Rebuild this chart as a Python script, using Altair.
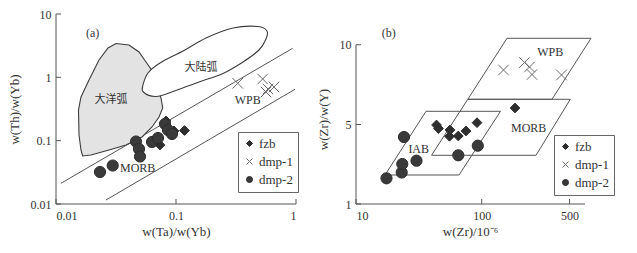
import altair as alt
import pandas as pd

SERIES = ["fzb", "dmp-1", "dmp-2"]

# ---------------- panel (a): Th/Yb vs Ta/Yb ----------------
a_fzb_x = [0.07356, 0.08254, 0.09623, 0.1177]
a_fzb_y = [0.0854, 0.2045, 0.1422, 0.1447]
a_dmp1_x = [0.3267, 0.5277, 0.5843, 0.6557, 0.5623]
a_dmp1_y = [0.805, 0.9414, 0.6546, 0.7038, 0.5867]
a_dmp2_x = [0.02326, 0.02969, 0.04642, 0.04918, 0.05012, 0.0631, 0.07079, 0.081, 0.08577, 0.09261]
a_dmp2_y = [0.032, 0.0405, 0.0970, 0.0739, 0.0562, 0.0953, 0.1102, 0.1833, 0.1474, 0.1274]

oceanic_x = [0.01669, 0.01615, 0.01555, 0.0154, 0.01615, 0.01884, 0.02282, 0.02713, 0.03162, 0.04058, 0.04918,
             0.05623, 0.06432, 0.06813, 0.07499, 0.07748, 0.07216, 0.0631, 0.05208, 0.03831, 0.02766, 0.01957]
oceanic_y = [0.0573, 0.0713, 0.1229, 0.305, 0.4894, 0.908, 1.878, 2.906, 3.422, 3.241, 2.513,
             1.747, 1.214, 0.757, 0.472, 0.328, 0.2365, 0.1644, 0.1143, 0.0854, 0.0713, 0.0594]
continental_x = [0.05339, 0.06813, 0.1, 0.1554, 0.2464, 0.3617, 0.4917, 0.5623, 0.5732, 0.4824, 0.2985,
                 0.1778, 0.1144, 0.07356, 0.05843, 0.05309]
continental_y = [0.5867, 0.4983, 0.6198, 0.8442, 1.15, 1.747, 2.702, 4.031, 5.391, 6.352, 6.014,
                 4.181, 2.605, 1.684, 1.171, 0.757]
array_upper_x = [0.011, 0.9386]
array_upper_y = [0.02122, 2.874]
array_lower_x = [0.0261, 0.981]
array_lower_y = [0.01157, 0.6474]

a_text = ["(a)", "WPB", "MORB"]
a_text_x = [0.02022, 0.3959, 0.04795]
a_text_y = [4.96, 0.4387, 0.0366]
a_cjk = ["大陆弧", "大洋弧"]
a_cjk_x = [0.1616, 0.02873]
a_cjk_y = [1.389, 0.4387]

a_xticks = [0.01, 0.1, 1]
a_yticks = [0.01, 0.1, 1, 10]

# ---------------- panel (b): Zr/Y vs Zr ----------------
b_fzb_x = [43.70, 45.33, 55.95, 55.44, 65.13, 75.02, 91.76, 184.1]
b_fzb_y = [4.971, 4.771, 4.685, 4.330, 4.347, 4.629, 5.104, 5.970]
b_dmp1_x = [149.1, 219.0, 240.1, 251.3, 431.3]
b_dmp1_y = [8.338, 8.826, 8.532, 8.048, 8.016]
b_dmp2_x = [17.48, 23.10, 23.35, 24.09, 30.29, 65.13, 93.11]
b_dmp2_y = [2.141, 2.423, 2.848, 4.291, 3.017, 3.299, 3.812]

iab_x = [17.01, 65.98, 141.1, 36.06]
iab_y = [2.300, 2.300, 5.773, 5.773]
morb_x = [39.87, 270.4, 506.9, 77.5]
morb_y = [3.299, 3.299, 6.496, 6.496]
wpb_x = [77.5, 362.5, 740.5, 159.0]
wpb_y = [6.496, 6.496, 10.435, 10.435]

b_text = ["(b)", "WPB", "MORB", "IAB"]
b_text_x = [18.2, 351.3, 236.5, 31.54]
b_text_y = [10.78, 9.536, 4.782, 3.618]

b_xticks = [10, 100, 500]
b_yticks = [1, 5, 10]

# ---------------- styling ----------------
SERIF = "Liberation Serif, Times New Roman, serif"
CJK = "Noto Sans CJK SC"
AX = "#555555"
TXT = "#333333"
H = 190

shape_scale = alt.Scale(domain=SERIES, range=["diamond", "M-1,-1L1,1M-1,1L1,-1", "circle"])
fill_scale = alt.Scale(domain=SERIES, range=["#2e2e2e", "transparent", "#3a3a3a"])
stroke_scale = alt.Scale(domain=SERIES, range=["#2e2e2e", "#6a6a6a", "#2e2e2e"])
size_scale = alt.Scale(domain=SERIES, range=[95, 125, 115])


def make_legend(lx, ly):
    return alt.Legend(title=None, orient="none", legendX=lx, legendY=ly,
                      strokeColor="#666666", fillColor="white", padding=5,
                      symbolSize=36, symbolStrokeWidth=1, rowPadding=4,
                      labelFont=SERIF, labelFontSize=13, labelColor=TXT, labelOffset=3)


def points_df(xs_list, ys_list):
    xs, ys, ts = [], [], []
    for name, xv, yv in zip(SERIES, xs_list, ys_list):
        xs += xv
        ys += yv
        ts += [name] * len(xv)
    return pd.DataFrame({"x": xs, "y": ys, "type": ts})


def poly_df(named):
    rows = []
    for name, xv, yv in named:
        for i, (xx, yy) in enumerate(zip(xv, yv)):
            rows.append({"x": xx, "y": yy, "name": name, "i": i})
    return pd.DataFrame(rows)


def panel(W, xsc, ysc, xtitle, ytitle, xticks, yticks, xfmt, yfmt, xline, yline,
          pts, legend, extra_layers, ytitle_y=None, xtitle_x=None):
    ax_kw = dict(grid=False, domain=False, ticks=False, labelFont=SERIF, labelFontSize=12,
                 labelColor=TXT, titleFont=SERIF, titleFontSize=13, titleColor=TXT,
                 titleFontWeight="normal")
    xextra = {"titleX": xtitle_x} if xtitle_x is not None else {}
    axx = alt.Axis(values=xticks, format=xfmt, title=xtitle, titlePadding=4, labelPadding=6,
                   **xextra, **ax_kw)
    yextra = {"titleY": ytitle_y} if ytitle_y is not None else {}
    axy = alt.Axis(values=yticks, format=yfmt, title=ytitle, titlePadding=9, labelPadding=5,
                   labelFlush=False, **yextra, **ax_kw)

    def X(f):
        return alt.X(f, type="quantitative", scale=xsc, axis=axx)

    def Y(f):
        return alt.Y(f, type="quantitative", scale=ysc, axis=axy)

    xl = alt.Chart(pd.DataFrame({"a": [xline[0]], "b": [xline[1]]})).mark_rule(
        color=AX, strokeWidth=1).encode(x=X("a"), x2="b:Q", y=alt.value(H))
    yl = alt.Chart(pd.DataFrame({"a": [yline[0]], "b": [yline[1]]})).mark_rule(
        color=AX, strokeWidth=1).encode(y=Y("a"), y2="b:Q", x=alt.value(0))
    xt = alt.Chart(pd.DataFrame({"v": xticks})).mark_rule(color=AX, strokeWidth=1).encode(
        x=X("v"), y=alt.value(H), y2=alt.value(H - 5))
    yt = alt.Chart(pd.DataFrame({"v": yticks})).mark_rule(color=AX, strokeWidth=1).encode(
        y=Y("v"), x=alt.value(0), x2=alt.value(5))

    layers = [lyr(X, Y) for lyr in extra_layers]
    pt = alt.Chart(pts).mark_point(filled=True, strokeWidth=1, opacity=1).encode(
        x=X("x"), y=Y("y"),
        shape=alt.Shape("type:N", scale=shape_scale, legend=legend),
        fill=alt.Fill("type:N", scale=fill_scale, legend=legend),
        stroke=alt.Stroke("type:N", scale=stroke_scale, legend=legend),
        size=alt.Size("type:N", scale=size_scale, legend=None),
    )
    return alt.layer(*layers, xl, yl, xt, yt, pt).properties(width=W, height=H)


# ---- panel (a) layers ----
xsc_a = alt.Scale(type="log", domain=[0.01, 1], nice=False)
ysc_a = alt.Scale(type="log", domain=[0.01, 10], nice=False)

oce = poly_df([("oceanic", oceanic_x, oceanic_y)])
con = poly_df([("continental", continental_x, continental_y)])
arr = poly_df([("upper", array_upper_x, array_upper_y), ("lower", array_lower_x, array_lower_y)])
atxt = pd.DataFrame({"x": a_text_x, "y": a_text_y, "t": a_text})
acjk = pd.DataFrame({"x": a_cjk_x, "y": a_cjk_y, "t": a_cjk})

a_layers = [
    lambda X, Y: alt.Chart(arr).mark_line(color=AX, strokeWidth=1).encode(
        x=X("x"), y=Y("y"), detail="name:N", order="i:Q"),
    lambda X, Y: alt.Chart(oce).mark_line(interpolate="linear-closed", fill="#e3e3e3", stroke="#3c3c3c",
                                          strokeWidth=1.1).encode(x=X("x"), y=Y("y"), order="i:Q"),
    lambda X, Y: alt.Chart(con).mark_line(interpolate="cardinal-closed", fill="white", stroke="#3c3c3c",
                                          strokeWidth=1.1).encode(x=X("x"), y=Y("y"), order="i:Q"),
    lambda X, Y: alt.Chart(atxt).mark_text(font=SERIF, fontSize=12, color=TXT).encode(
        x=X("x"), y=Y("y"), text="t:N"),
    lambda X, Y: alt.Chart(acjk).mark_text(font=CJK, fontSize=11, color=TXT).encode(
        x=X("x"), y=Y("y"), text="t:N"),
]

chart_a = panel(240, xsc_a, ysc_a, "w(Ta)/w(Yb)", "w(Th)/w(Yb)", a_xticks, a_yticks, ".2~f", ".2~f",
                [0.01, 1], [0.01, 10],
                points_df([a_fzb_x, a_dmp1_x, a_dmp2_x], [a_fzb_y, a_dmp1_y, a_dmp2_y]),
                make_legend(182, 118), a_layers)

# ---- panel (b) layers ----
xsc_b = alt.Scale(type="log", domain=[10, 1088], nice=False)
ysc_b = alt.Scale(type="pow", exponent=0.78, domain=[1, 12.11], nice=False, zero=False)

fields = poly_df([("IAB", iab_x, iab_y), ("MORB", morb_x, morb_y), ("WPB", wpb_x, wpb_y)])
btxt = pd.DataFrame({"x": b_text_x, "y": b_text_y, "t": b_text})

b_layers = [
    lambda X, Y: alt.Chart(fields).mark_line(interpolate="linear-closed", color=AX, strokeWidth=1).encode(
        x=X("x"), y=Y("y"), detail="name:N", order="i:Q"),
    lambda X, Y: alt.Chart(btxt).mark_text(font=SERIF, fontSize=12, color=TXT).encode(
        x=X("x"), y=Y("y"), text="t:N"),
]

chart_b = panel(256, xsc_b, ysc_b, "w(Zr)/10⁻⁶", "w(Zr)/w(Y)", b_xticks, b_yticks, "d", "d",
                [10, 663.6], [1, 10],
                points_df([b_fzb_x, b_dmp1_x, b_dmp2_x], [b_fzb_y, b_dmp1_y, b_dmp2_y]),
                make_legend(198, 121), b_layers, ytitle_y=105, xtitle_x=114)

chart = alt.hconcat(chart_a, chart_b, spacing=18).resolve_legend(
    shape="independent", fill="independent", stroke="independent"
).configure_view(stroke=None).properties(
    padding={"left": 0, "top": 0, "right": 4, "bottom": 4},
    background="white",
)

chart.save("out.html", embed_options={"renderer": "svg", "actions": False})
